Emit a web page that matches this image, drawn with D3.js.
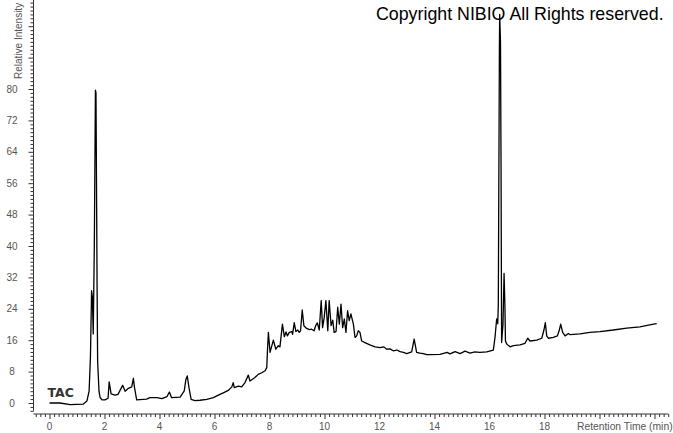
<!DOCTYPE html>
<html><head><meta charset="utf-8">
<script src="https://cdn.jsdelivr.net/npm/d3@7"></script>
<style>body{margin:0;background:#fff}svg{display:block}text{font-family:"Liberation Sans",Arial,sans-serif}</style>
</head><body>
<svg id="c" width="673" height="433"></svg>
<script>
// Retention time (min) and relative intensity
const times = [0.00,0.38,0.75,1.22,1.36,1.44,1.49,1.53,1.56,1.59,1.63,1.67,1.69,1.72,1.73,1.75,1.80,1.84,1.91,2.02,
 2.13,2.17,2.24,2.38,2.49,2.66,2.75,2.87,2.99,3.05,3.09,3.17,3.53,3.65,3.91,4.09,4.27,4.36,4.44,4.75,
 4.90,4.96,5.01,5.07,5.15,5.29,5.47,5.72,5.96,6.14,6.32,6.50,6.63,6.68,6.72,6.87,6.99,7.11,7.23,7.29,
 7.47,7.59,7.72,7.84,7.90,7.93,7.96,8.02,8.14,8.23,8.32,8.38,8.47,8.54,8.60,8.65,8.72,8.81,8.84,8.90,
 8.96,9.03,9.08,9.13,9.19,9.25,9.35,9.45,9.53,9.62,9.68,9.74,9.81,9.88,9.93,9.99,10.05,10.12,10.17,10.24,
 10.30,10.35,10.42,10.48,10.54,10.60,10.66,10.72,10.78,10.84,10.90,10.96,11.05,11.11,11.17,11.23,11.29,11.35,11.47,11.65,
 11.84,12.02,12.16,12.26,12.38,12.50,12.63,12.75,12.87,12.99,13.17,13.26,13.35,13.47,13.59,13.72,13.84,14.20,14.46,14.56,
 14.75,14.93,15.11,15.29,15.47,15.65,15.90,16.14,16.20,16.26,16.30,16.32,16.36,16.37,16.40,16.42,16.44,16.49,16.53,16.56,
 16.58,16.63,16.75,16.87,17.11,17.29,17.39,17.47,17.72,17.90,17.98,18.03,18.08,18.14,18.32,18.47,18.54,18.59,18.66,18.75,
 18.87,18.93,19.29,19.65,20.02,20.50,20.99,21.47,21.96,22.08];
const intensity = [0,0,-0.4,-0.3,0.5,3,12,28.6,27,17.6,40,79.7,79,43,30,10.7,3,1.4,0.8,0.8,
 1.2,5.4,2.3,2.0,2.2,4.5,3,3.75,4.1,6.3,4,0.8,1.0,1.35,1.35,1.1,1.6,2.8,1.35,1.5,
 3.1,6,6.9,4,0.9,0.6,0.7,0.95,1.35,2,2.6,3.2,4.1,5.2,3.9,4.3,4.1,5.2,7.1,5.6,
 6.5,7.3,7.7,8.2,9,14,18,12.9,16,13.7,14.6,14.3,20.1,16.9,18.1,17.1,18,18.2,17.5,20.5,
 18.2,18.6,18,18.4,23.7,19.7,19,18.7,18.8,18.4,19.7,20.4,18.6,26.1,19.2,21.8,26.1,18.4,26.1,19.7,
 21.1,18,18.2,24.4,20.1,25.2,19.2,21.4,18,23.5,21,22.7,20.1,16.7,17.1,18.4,18,15.8,15.4,14.8,
 14.3,14.1,14.3,13.7,13.8,13.3,13.5,13.1,12.9,12.6,13,16.3,12.9,12.7,12.6,12.3,12.3,12.4,12.9,12.5,
 13.1,12.6,13.2,12.7,13.0,12.9,13.0,13.5,16.7,21.4,20.2,25,90,99,92,60,15.4,20,33,25,
 15.8,15,14.3,14.6,14.8,15.2,16.5,15.8,16,16.5,18.6,20.5,17.1,16.5,16.7,17.1,18.6,20.1,18,17.1,
 17.7,17.4,17.6,18,18.2,18.6,19.1,19.4,20.1,20.2];
const xTickLabels = [0,2,4,6,8,10,12,14,16,18];
const yTickLabels = [0,8,16,24,32,40,48,56,64,72,80];

const svg = d3.select("#c");
const x = d3.scaleLinear().domain([0,18]).range([49.5,544.5]);
const y = d3.scaleLinear().domain([0,80]).range([403,89]);
const axisColor = "#333", textColor = "#555";
const xAxisY = 414, yAxisX = 33.5;

// Y axis
const yMinor = d3.range(-2, 103).filter(v => v % 8 !== 0);
const yMajor = d3.range(0, 103, 8);
const gy = svg.append("g").attr("transform", `translate(${yAxisX},0)`);
gy.call(d3.axisLeft(y).tickValues(yMinor).tickSize(3).tickSizeOuter(0).tickFormat(""));
gy.call(g => g.select(".domain").remove());
const gy2 = svg.append("g").attr("transform", `translate(${yAxisX},0)`);
gy2.call(d3.axisLeft(y).tickValues(yMajor).tickSize(5).tickSizeOuter(0).tickFormat(""));
gy2.call(g => g.select(".domain").remove());
svg.selectAll("g line").attr("stroke", axisColor);
svg.append("line").attr("x1", yAxisX).attr("x2", yAxisX).attr("y1", 0).attr("y2", y(-2))
  .attr("stroke", axisColor);
svg.append("g").selectAll("text").data(yTickLabels).join("text")
  .attr("x", 12).attr("y", d => y(d) + 3.5).attr("text-anchor", "middle")
  .attr("font-size", 10).attr("fill", textColor).text(d => d);

// X axis
const xMinor = d3.range(-3, 136).filter(k => k % 12 !== 0).map(k => k / 6);
const xMajor = d3.range(0, 23, 2);
const gx = svg.append("g").attr("transform", `translate(0,${xAxisY})`);
gx.call(d3.axisBottom(x).tickValues(xMinor).tickSize(3).tickSizeOuter(0).tickFormat(""));
gx.call(g => g.select(".domain").remove());
const gx2 = svg.append("g").attr("transform", `translate(0,${xAxisY})`);
gx2.call(d3.axisBottom(x).tickValues(xMajor).tickSize(5).tickSizeOuter(0).tickFormat(""));
gx2.call(g => g.select(".domain").remove());
svg.selectAll("g line").attr("stroke", axisColor);
svg.append("line").attr("x1", yAxisX).attr("x2", x(22.5)).attr("y1", xAxisY).attr("y2", xAxisY)
  .attr("stroke", axisColor);
svg.append("g").selectAll("text").data(xTickLabels).join("text")
  .attr("x", d => x(d)).attr("y", 429.5).attr("text-anchor", "middle")
  .attr("font-size", 10).attr("fill", textColor).text(d => d);

svg.append("text").attr("x", 577).attr("y", 429.5).attr("font-size", 10.3)
  .attr("fill", textColor).text("Retention Time (min)");
svg.append("text").attr("transform", "translate(22,79) rotate(-90)").attr("font-size", 10)
  .attr("fill", textColor).text("Relative Intensity");

// Trace
const pts = times.map((t, i) => [t, intensity[i]]);
svg.append("path").datum(pts)
  .attr("d", d3.line().x(d => x(d[0])).y(d => y(d[1])))
  .attr("fill", "none").attr("stroke", "#000").attr("stroke-width", 1.3)
  .attr("stroke-linejoin", "round");

svg.append("text").attr("x", 47.5).attr("y", 397).attr("font-size", 12.5)
  .attr("font-weight", "bold").attr("fill", "#333")
  .style("font-family", "'DejaVu Sans', sans-serif").text("TAC");

svg.append("text").attr("x", 376).attr("y", 20).attr("font-size", 17.8)
  .attr("fill", "#000").text("Copyright NIBIO All Rights reserved.");
</script>
</body></html>
